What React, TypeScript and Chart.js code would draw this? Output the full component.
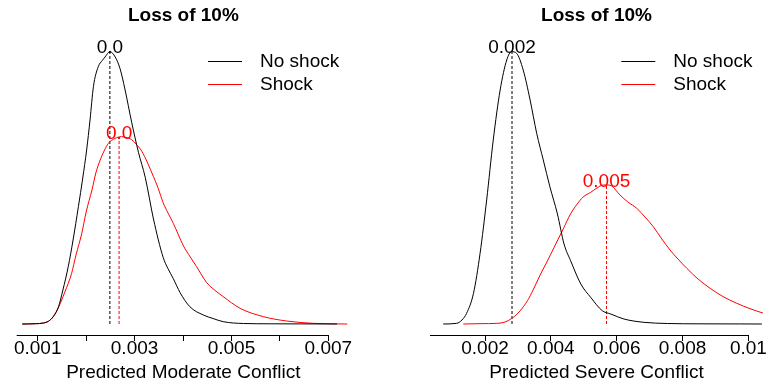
import React, { useEffect, useRef } from 'react';
import { Chart, registerables } from 'chart.js';

Chart.register(...registerables);

const FONT = "'Liberation Sans', Arial, Helvetica, sans-serif";

// ---------- shared ----------
const seriesNames = ['No shock', 'Shock'];
const seriesColors = ['#000000', '#ff0000'];
const panelTitle = 'Loss of 10%';

// ---------- left panel: moderate conflict ----------
const moderateAxisTitle = 'Predicted Moderate Conflict';
const moderateTicks = [0.001, 0.002, 0.003, 0.004, 0.005, 0.006, 0.007];
const moderateTickLabels = ['0.001', '', '0.003', '', '0.005', '', '0.007'];
const moderateRange = [0.000566, 0.007448];

const moderateNoShockX = [0.00068, 0.00095, 0.00112, 0.00122, 0.00132, 0.00143, 0.00152, 0.00163, 0.00173, 0.00184, 0.00193, 0.00201, 0.00208, 0.00215, 0.00225, 0.00233, 0.00239, 0.00249, 0.0026, 0.0027, 0.0028, 0.00294, 0.00308, 0.00322, 0.00339, 0.00359, 0.00369, 0.0038, 0.00394, 0.00414, 0.00442, 0.00462, 0.00483, 0.00525, 0.0058, 0.00642, 0.00718];
const moderateNoShockY = [0, 0.8, 3, 8, 22, 52, 102, 172, 252, 352, 438, 522, 612, 712, 772, 790, 801, 817, 801, 766, 705, 605, 515, 440, 315, 200, 166, 136, 94, 52, 27, 16.5, 7, 1.5, 0.6, 0.3, 0];

const moderateShockX = [0.00068, 0.00095, 0.00112, 0.00122, 0.00132, 0.00143, 0.00156, 0.0017, 0.00179, 0.00191, 0.002, 0.00212, 0.0022, 0.00229, 0.00237, 0.00246, 0.0026, 0.00273, 0.00282, 0.00294, 0.00303, 0.00315, 0.00326, 0.00339, 0.00348, 0.00359, 0.00369, 0.0038, 0.00401, 0.00415, 0.00428, 0.00449, 0.00466, 0.00483, 0.00518, 0.00566, 0.00614, 0.00669, 0.00739];
const moderateShockY = [0, 0.8, 3, 8, 22, 50, 96, 152, 207, 272, 336, 402, 453, 492, 519, 542, 557, 562, 560, 553, 540, 518, 486, 442, 410, 364, 333, 302, 234, 201, 172, 124, 101, 82, 47, 22, 9, 2, 0];

const moderateModes = [0.00249, 0.00268];
const moderatePeaks = [817, 561];
const moderatePeakLabels = ['0.0', '0.0'];

// ---------- right panel: severe conflict ----------
const severeAxisTitle = 'Predicted Severe Conflict';
const severeTicks = [0.002, 0.004, 0.006, 0.008, 0.01];
const severeTickLabels = ['0.002', '0.004', '0.006', '0.008', '0.01'];
const severeRange = [0.000329, 0.010444];

const severeNoShockX = [0.00073, 0.00114, 0.0013, 0.00144, 0.00165, 0.00185, 0.00205, 0.00225, 0.00246, 0.00266, 0.00281, 0.00296, 0.00316, 0.00337, 0.00357, 0.00377, 0.00397, 0.0042, 0.0044, 0.0046, 0.00491, 0.00521, 0.00556, 0.00582, 0.00622, 0.00683, 0.00754, 0.00853, 0.00975, 0.01041];
const severeNoShockY = [0, 2, 12, 32, 92, 212, 372, 552, 702, 792, 817, 812, 762, 672, 572, 492, 412, 330, 240, 190, 120, 80, 40, 30, 15, 5, 1.5, 0.5, 0.2, 0];

const severeShockX = [0.00134, 0.00185, 0.00236, 0.00261, 0.00283, 0.00306, 0.00329, 0.00346, 0.00369, 0.00388, 0.0041, 0.0044, 0.00458, 0.0048, 0.00498, 0.00521, 0.0054, 0.00559, 0.00574, 0.00585, 0.0061, 0.00634, 0.00661, 0.00686, 0.00711, 0.00735, 0.00762, 0.00786, 0.00813, 0.00847, 0.00884, 0.0092, 0.00965, 0.01005, 0.01044, 0.01081];
const severeShockY = [0, 1, 2, 6, 18, 39, 70, 102, 150, 186, 230, 290, 327, 360, 381, 395, 408, 417, 417, 414, 387, 366, 347, 321, 292, 258, 222, 195, 167, 135, 107, 84, 62, 46, 33, 24];

const severeModes = [0.00282, 0.00569];
const severePeaks = [817, 417];
const severePeakLabels = ['0.002', '0.005'];

const densityRange = [-33, 852];

const toPoints = (xs: number[], ys: number[]) => xs.map((x, i) => ({ x, y: ys[i] }));

const overlayPlugin = {
  id: 'overlay',
  afterDraw(chart: any, _args: any, opts: any) {
    const { ctx, chartArea } = chart;
    const xs = chart.scales.x;
    const ys = chart.scales.y;
    ctx.save();
    // axis line from plot edge to last tick
    const yb = Math.round(chartArea.bottom) + 0.5;
    ctx.strokeStyle = '#000';
    ctx.lineWidth = 1;
    ctx.beginPath();
    ctx.moveTo(chartArea.left, yb);
    ctx.lineTo(xs.getPixelForValue(opts.lastTick), yb);
    ctx.stroke();
    // legend
    ctx.font = `19px ${FONT}`;
    ctx.textBaseline = 'middle';
    seriesNames.forEach((name, i) => {
      const y = Math.round(chartArea.top + 21 + i * 23) + 0.5;
      const x0 = chartArea.left + 191.3;
      ctx.strokeStyle = seriesColors[i];
      ctx.beginPath();
      ctx.moveTo(x0, y);
      ctx.lineTo(x0 + 34, y);
      ctx.stroke();
      ctx.fillStyle = '#000';
      ctx.textAlign = 'left';
      ctx.fillText(name, x0 + 52, y);
    });
    // peak labels
    opts.modes.forEach((m: number, i: number) => {
      ctx.fillStyle = seriesColors[i];
      ctx.textAlign = 'center';
      ctx.fillText(opts.peakLabels[i], xs.getPixelForValue(m), ys.getPixelForValue(opts.peaks[i]) - 3.5);
    });
    ctx.restore();
  },
};

type PanelProps = {
  left: number;
  padLeft: number;
  padRight: number;
  range: number[];
  ticks: number[];
  tickLabels: string[];
  axisTitle: string;
  noShockX: number[];
  noShockY: number[];
  shockX: number[];
  shockY: number[];
  modes: number[];
  peaks: number[];
  peakLabels: string[];
};

function DensityPanel(p: PanelProps) {
  const ref = useRef<HTMLCanvasElement | null>(null);
  useEffect(() => {
    if (!ref.current) return;
    const chart = new Chart(ref.current, {
      type: 'line',
      data: {
        datasets: [
          {
            label: seriesNames[0],
            data: toPoints(p.noShockX, p.noShockY),
            borderColor: seriesColors[0],
            borderWidth: 1,
            pointRadius: 0,
            cubicInterpolationMode: 'monotone',
            fill: false,
          },
          {
            label: seriesNames[1],
            data: toPoints(p.shockX, p.shockY),
            borderColor: seriesColors[1],
            borderWidth: 1,
            pointRadius: 0,
            cubicInterpolationMode: 'monotone',
            fill: false,
          },
          ...p.modes.map((m, i) => ({
            label: seriesNames[i] + ' mode',
            data: [
              { x: m, y: 0 },
              { x: m, y: p.peaks[i] },
            ],
            borderColor: seriesColors[i],
            borderWidth: 1,
            borderDash: [3, 2],
            pointRadius: 0,
            fill: false,
          })),
        ],
      },
      options: {
        animation: false,
        responsive: false,
        maintainAspectRatio: false,
        layout: { padding: { left: p.padLeft, right: p.padRight, top: 0, bottom: 0 } },
        scales: {
          x: {
            type: 'linear',
            min: p.range[0],
            max: p.range[1],
            afterBuildTicks: (scale: any) => {
              scale.ticks = p.ticks.map((v) => ({ value: v }));
            },
            afterFit: (scale: any) => {
              scale.height = 53;
            },
            border: { display: false },
            grid: { drawOnChartArea: false, drawTicks: true, tickLength: 6, color: '#000', lineWidth: 1 },
            ticks: {
              autoSkip: false,
              maxRotation: 0,
              minRotation: 0,
              padding: 0,
              color: '#000',
              font: { family: FONT, size: 19, lineHeight: 0.87 },
              callback: (_v: any, i: number) => p.tickLabels[i],
            },
            title: {
              display: true,
              text: p.axisTitle,
              color: '#000',
              font: { family: FONT, size: 19, lineHeight: 1.2 },
              padding: { top: 0, bottom: 3.6 },
            },
          },
          y: { type: 'linear', display: false, min: densityRange[0], max: densityRange[1] },
        },
        plugins: {
          legend: { display: false },
          tooltip: { enabled: false },
          title: {
            display: true,
            text: panelTitle,
            color: '#000',
            font: { family: FONT, size: 19, weight: 'bold', lineHeight: 1.2 },
            padding: { top: 4.6, bottom: 12.6 },
          },
          overlay: {
            lastTick: p.ticks[p.ticks.length - 1],
            modes: p.modes,
            peaks: p.peaks,
            peakLabels: p.peakLabels,
          },
        } as any,
      },
      plugins: [overlayPlugin as any],
    } as any);
    return () => chart.destroy();
  }, []);
  return (
    <canvas
      ref={ref}
      width={384}
      height={388}
      style={{ position: 'absolute', left: p.left, top: 0, width: 384, height: 388, display: 'block' }}
    />
  );
}

export default function App() {
  return (
    <div style={{ position: 'absolute', left: 0, top: 0, width: 768, height: 388, background: '#fff', overflow: 'hidden' }}>
      <DensityPanel
        left={0}
        padLeft={16.7}
        padRight={34}
        range={moderateRange}
        ticks={moderateTicks}
        tickLabels={moderateTickLabels}
        axisTitle={moderateAxisTitle}
        noShockX={moderateNoShockX}
        noShockY={moderateNoShockY}
        shockX={moderateShockX}
        shockY={moderateShockY}
        modes={moderateModes}
        peaks={moderatePeaks}
        peakLabels={moderatePeakLabels}
      />
      <DensityPanel
        left={384}
        padLeft={46}
        padRight={5}
        range={severeRange}
        ticks={severeTicks}
        tickLabels={severeTickLabels}
        axisTitle={severeAxisTitle}
        noShockX={severeNoShockX}
        noShockY={severeNoShockY}
        shockX={severeShockX}
        shockY={severeShockY}
        modes={severeModes}
        peaks={severePeaks}
        peakLabels={severePeakLabels}
      />
    </div>
  );
}
